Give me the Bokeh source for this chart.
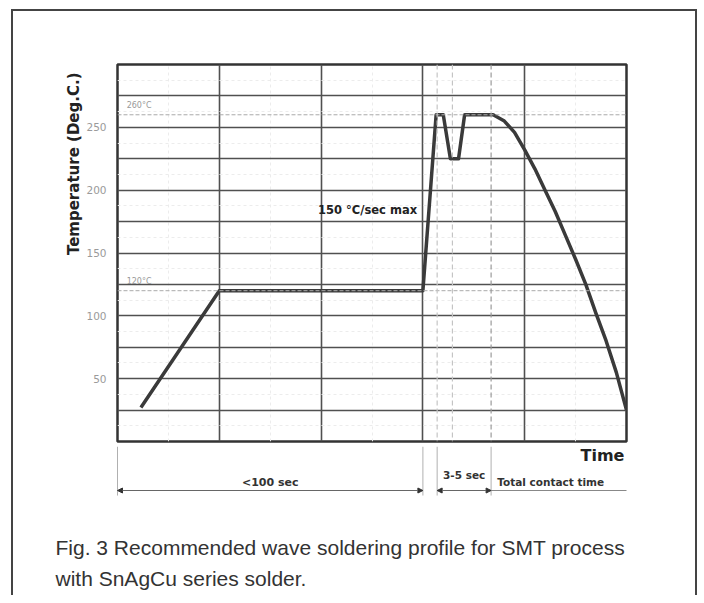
import math
from bokeh.plotting import figure
from bokeh.layouts import column
from bokeh.models import Label, Span, Arrow, NormalHead, FixedTicker, Range1d, Title
from bokeh.embed import file_html
from bokeh.resources import INLINE

# ---- data ----
time_pts = [0.23, 1.0, 3.0, 3.13, 3.2, 3.27, 3.35, 3.41, 3.69, 3.8, 3.9, 4.0,
            4.1, 4.2, 4.3, 4.4, 4.5, 4.6, 4.7, 4.8, 4.9, 5.0]
temp_pts = [27, 120, 120, 260, 260, 225, 225, 260, 260, 255, 246, 232,
            217, 200, 183, 164, 145, 125, 102, 80, 55, 25]
y_ticks = [50, 100, 150, 200, 250]
y_grid = [25, 50, 75, 100, 125, 150, 175, 200, 225, 250, 275]
y_minor = [12.5, 37.5, 62.5, 87.5, 112.5, 137.5, 162.5, 187.5, 212.5, 237.5, 262.5, 287.5]
x_grid = [1, 2, 3, 4]
x_minor = [0.5, 1.5, 2.5, 4.5]
ref_temps = [260, 120]
ref_labels = ["260°C", "120°C"]
marker_times = [3.14, 3.29, 3.67]
marker_colors = ["#c4c4c4", "#c4c4c4", "#9a9a9a"]
dim_edges = [0, 3.0, 3.14, 3.67]
dim_starts = [0, 3.14]
dim_ends = [3.0, 3.67]
dim_labels = ["<100 sec", "3-5 sec", "Total contact time"]
caption = ["Fig. 3 Recommended wave soldering profile for SMT process",
           "with SnAgCu series solder."]

BOLD = "DejaVu Sans"
X0, X1, Y0, Y1 = 0, 5, 0, 300

# ---- layout geometry (pixels) ----
W = 682
FW, FH = 509, 377
BL, BR, BT, BB = 104, 69, 53, 5
H_TOP = BT + FH + BB
H_BOT = 149
ppu = FW / (X1 - X0)
ppt = FH / (Y1 - Y0)

p = figure(width=W, height=H_TOP, x_range=Range1d(X0, X1), y_range=Range1d(Y0, Y1),
           output_backend="svg", toolbar_location=None, x_axis_location=None,
           min_border_left=BL, min_border_right=BR, min_border_top=BT,
           min_border_bottom=BB)
p.outline_line_color = "#333333"
p.outline_line_width = 2.5
p.background_fill_color = "white"
p.border_fill_color = "white"

# grids
p.ygrid.ticker = FixedTicker(ticks=y_grid, minor_ticks=y_minor)
p.ygrid.grid_line_color = "#505050"
p.ygrid.grid_line_width = 1.6
p.ygrid.minor_grid_line_color = "#ececec"
p.ygrid.minor_grid_line_dash = "3 3"
p.xgrid.ticker = FixedTicker(ticks=x_grid, minor_ticks=x_minor)
p.xgrid.grid_line_color = "#505050"
p.xgrid.grid_line_width = 1.6
p.xgrid.minor_grid_line_color = "#ececec"
p.xgrid.minor_grid_line_dash = "3 3"

# y axis
p.yaxis.ticker = FixedTicker(ticks=y_ticks)
p.yaxis.axis_line_color = None
p.yaxis.major_tick_line_color = None
p.yaxis.minor_tick_line_color = None
p.yaxis.major_label_text_color = "#9a9a9a"
p.yaxis.major_label_text_font = "DejaVu Sans"
p.yaxis.major_label_text_font_size = "10.5px"
p.yaxis.major_label_standoff = 5

p.add_layout(Title(text="Temperature (Deg.C.)", align="right", offset=8, standoff=2,
                   text_font=BOLD, text_font_style="bold", text_font_size="15px",
                   text_color="#222222"), "left")

# reference dashed lines
for t, lab in zip(ref_temps, ref_labels):
    p.add_layout(Span(location=t, dimension="width", line_color="#aaaaaa",
                      line_dash="4 2", line_width=1))
    p.add_layout(Label(x=0.09, y=t + 7, text=lab, text_color="#999999",
                       text_font="DejaVu Sans", text_font_size="8px",
                       text_baseline="middle"))

for t, c in zip(marker_times, marker_colors):
    p.add_layout(Span(location=t, dimension="height", line_color=c,
                      line_dash="5 3", line_width=1.2))

# profile curve
p.line(time_pts, temp_pts, line_color="#3a3a3a", line_width=3.5, line_join="round")

p.add_layout(Label(x=1.97, y=184, text="150 °C/sec max", text_font=BOLD,
                   text_font_style="bold", text_font_size="11.5px",
                   text_color="#222222", text_baseline="middle"))

# ---- bottom strip: time annotations and caption, same x scale ----
q = figure(width=W, height=H_BOT,
           x_range=Range1d(X0 - BL / ppu, X1 + BR / ppu),
           y_range=Range1d(-(BB + H_BOT) / ppt, -BB / ppt),
           output_backend="svg", toolbar_location=None,
           x_axis_location=None, y_axis_location=None, min_border=0)
for fig in (p, q):
    if hasattr(fig, "frame_align"):
        fig.frame_align = False
q.outline_line_color = None
q.grid.visible = False
q.background_fill_color = "white"
q.border_fill_color = "white"

q.segment(x0=dim_edges, y0=[-4] * len(dim_edges), x1=dim_edges, y1=[-43] * len(dim_edges),
          line_color="#b0b0b0", line_width=1)
for a, b in zip(dim_starts, dim_ends):
    q.add_layout(Arrow(x_start=a, y_start=-39, x_end=b, y_end=-39,
                       start=NormalHead(size=5, fill_color="#333", line_color="#333"),
                       end=NormalHead(size=5, fill_color="#333", line_color="#333"),
                       line_color="#666666", line_width=1))
q.segment(x0=[dim_ends[-1]], y0=[-39], x1=[X1], y1=[-39], line_color="#888888", line_width=1)

q.add_layout(Label(x=4.98, y=-11, text="Time", text_font=BOLD, text_font_style="bold",
                   text_font_size="16px", text_color="#222222", text_align="right",
                   text_baseline="middle"))
q.add_layout(Label(x=1.5, y=-32.6, text=dim_labels[0], text_font=BOLD, text_font_style="bold",
                   text_font_size="11px", text_color="#333333", text_align="center",
                   text_baseline="middle"))
q.add_layout(Label(x=3.405, y=-27, text=dim_labels[1], text_font=BOLD, text_font_style="bold",
                   text_font_size="10.5px", text_color="#333333", text_align="center",
                   text_baseline="middle"))
q.add_layout(Label(x=3.73, y=-32.6, text=dim_labels[2], text_font=BOLD,
                   text_font_style="bold", text_font_size="10.5px", text_color="#333333",
                   text_baseline="middle"))

for i, line in enumerate(caption):
    q.add_layout(Label(x=-0.609, y=-84.3 - 24.7 * i, text=line,
                       text_font="Liberation Sans", text_font_size="21px",
                       text_color="#333333", text_baseline="alphabetic"))

layout = column(p, q, spacing=0)
layout.styles = {"margin-left": "11px", "margin-top": "9px",
                 "border-top": "2px solid #444", "border-left": "2px solid #444",
                 "border-right": "2px solid #444"}

open("out.html", "w").write(file_html(layout, INLINE))
